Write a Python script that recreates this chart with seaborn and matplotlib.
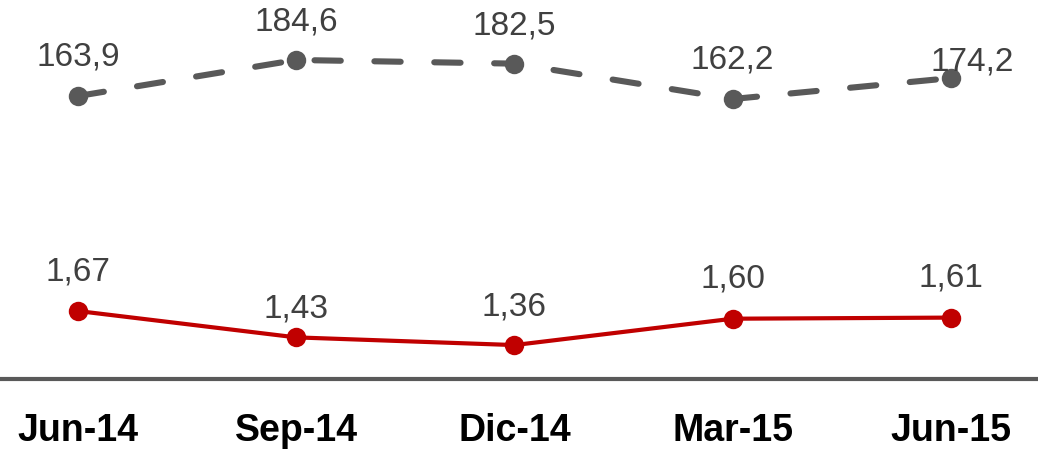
import matplotlib
matplotlib.use("Agg")
import matplotlib.pyplot as plt
import seaborn as sns
import pandas as pd

# Quarterly periods and the two indicators
periods = ["Jun-14", "Sep-14", "Dic-14", "Mar-15", "Jun-15"]
upper_values = [163.9, 184.6, 182.5, 162.2, 174.2]
lower_values = [1.67, 1.43, 1.36, 1.60, 1.61]

sns.set_theme(style="white")
plt.rcParams["font.family"] = ["Liberation Sans", "DejaVu Sans"]

df = pd.DataFrame({"period": periods, "upper": upper_values, "lower": lower_values})

fig = plt.figure(figsize=(10.38, 4.52), dpi=100)
ax = fig.add_axes([0, 0.159, 1, 0.841])
ax2 = ax.twinx()

gray = "#595959"
red = "#C00000"
label_color = "#404040"

# Lower series (red, solid)
sns.lineplot(data=df, x="period", y="lower", ax=ax, color=red, linewidth=3.0,
             marker="o", markersize=14, markeredgewidth=0, sort=False)
# Upper series (gray, dashed)
sns.lineplot(data=df, x="period", y="upper", ax=ax2, color=gray, linewidth=4.4,
             marker="o", markersize=14, markeredgewidth=0, sort=False)
for ln in ax2.get_lines():
    ln.set_dashes((4.3, 5.5))
    ln.set_dash_capstyle("round")

ax.set_xlim(-0.357, 4.399)
ax.set_ylim(1.05, 4.51)
ax2.set_ylim(1.4, 219.6)

# Value labels (offsets in points)
upper_offsets = [(0, 23), (0, 22), (0, 22), (0, 23), (15, 6)]
lower_offsets = [(0, 23), (0, 15), (0, 22), (0, 23), (0, 23)]
for i, (v, off) in enumerate(zip(upper_values, upper_offsets)):
    ax2.annotate(f"{v:.1f}".replace(".", ","), (i, v), xytext=off,
                 textcoords="offset points", ha="center", va="baseline",
                 fontsize=24, color=label_color)
for i, (v, off) in enumerate(zip(lower_values, lower_offsets)):
    ax.annotate(f"{v:.2f}".replace(".", ","), (i, v), xytext=off,
                textcoords="offset points", ha="center", va="baseline",
                fontsize=24, color=label_color)

for a in (ax, ax2):
    for s in ("top", "left", "right"):
        a.spines[s].set_visible(False)
    a.set_yticks([])
    a.set_ylabel("")
    a.set_xlabel("")
ax2.spines["bottom"].set_visible(False)
ax.spines["bottom"].set_color(gray)
ax.spines["bottom"].set_linewidth(3)
ax.tick_params(axis="x", length=0, pad=24)
for t in ax.get_xticklabels():
    t.set_fontsize(27)
    t.set_fontweight("bold")
    t.set_color("black")

fig.savefig("out.png", dpi=100)
